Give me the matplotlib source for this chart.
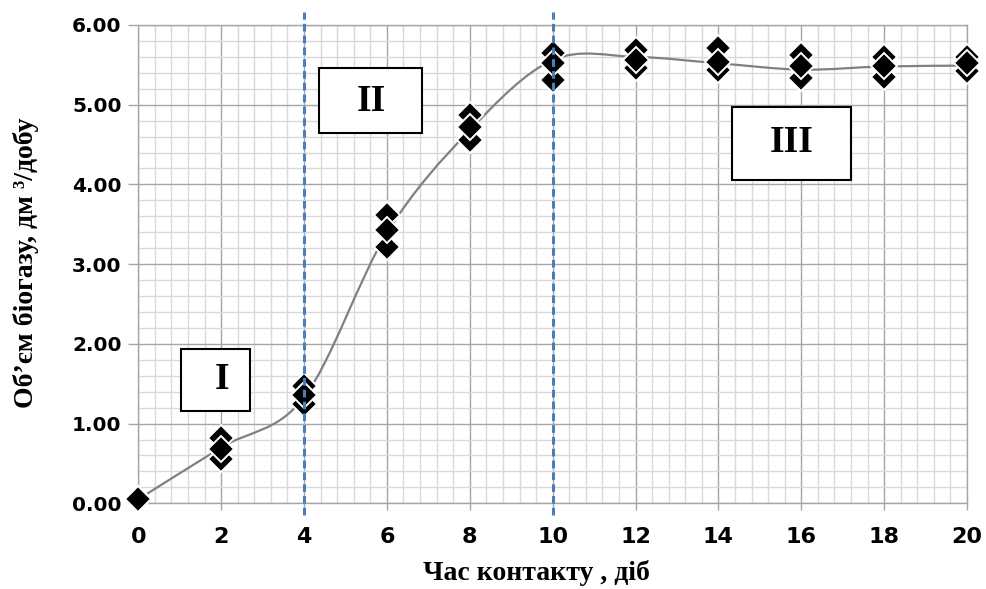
import matplotlib
matplotlib.use("Agg")
import matplotlib.pyplot as plt
from matplotlib.path import Path
from matplotlib.patches import PathPatch, Rectangle
from matplotlib.ticker import MultipleLocator, FormatStrFormatter

# ---- data ----
days = [0, 2, 4, 6, 8, 10, 12, 14, 16, 18, 20]
series_high = [0.05, 0.82, 1.47, 3.62, 4.87, 5.65, 5.69, 5.71, 5.62, 5.60, 5.60]
series_mid = [0.05, 0.68, 1.36, 3.43, 4.72, 5.52, 5.56, 5.54, 5.48, 5.48, 5.52]
series_low = [0.05, 0.56, 1.25, 3.22, 4.56, 5.31, 5.46, 5.44, 5.33, 5.35, 5.42]
trend = [0.05, 0.70, 1.33, 3.39, 4.68, 5.56, 5.60, 5.52, 5.44, 5.48, 5.49]
phase_bounds = [4, 10]
phase_labels = ["I", "II", "III"]
xlabel = "Час контакту , діб"
ylabel = "Об’єм біогазу, дм ³/добу"

plt.rcParams['lines.scale_dashes'] = False

fig = plt.figure(figsize=(9.87, 5.89), dpi=100)
ax = fig.add_axes([138.3 / 987, 85.7 / 589, 828.7 / 987, 478.3 / 589])
ax.set_xlim(0, 20)
ax.set_ylim(0, 6)

ax.xaxis.set_major_locator(MultipleLocator(2))
ax.xaxis.set_minor_locator(MultipleLocator(0.4))
ax.yaxis.set_major_locator(MultipleLocator(1))
ax.yaxis.set_minor_locator(MultipleLocator(0.2))
ax.yaxis.set_major_formatter(FormatStrFormatter('%.2f'))

ax.grid(which='major', color='#a6a6a6', linewidth=1.0, zorder=0)
ax.grid(which='minor', color='#d9d9d9', linewidth=1.0, zorder=0)
ax.set_axisbelow(True)
for s in ax.spines.values():
    s.set_color('#a6a6a6')
    s.set_linewidth(1.0)

ax.tick_params(which='minor', length=0)
ax.tick_params(axis='y', which='major', direction='out', length=7, color='#a6a6a6', width=1, pad=5)
ax.tick_params(axis='x', which='major', direction='out', length=5, color='#a6a6a6', width=1, pad=12)
for lab in ax.get_yticklabels():
    lab.set_fontfamily('DejaVu Sans')
    lab.set_fontweight('bold')
    lab.set_fontsize(14.5)
for lab in ax.get_xticklabels():
    lab.set_fontfamily('DejaVu Sans')
    lab.set_fontsize(16)
    lab.set_fontweight('bold')

# smooth trend curve (Catmull-Rom -> cubic Bezier)
pts = list(zip(days, trend))
verts = [pts[0]]
codes = [Path.MOVETO]
n = len(pts)
for i in range(n - 1):
    p0 = pts[i - 1] if i > 0 else pts[i]
    p1 = pts[i]
    p2 = pts[i + 1]
    p3 = pts[i + 2] if i + 2 < n else pts[i + 1]
    c1 = (p1[0] + (p2[0] - p0[0]) / 6, p1[1] + (p2[1] - p0[1]) / 6)
    c2 = (p2[0] - (p3[0] - p1[0]) / 6, p2[1] - (p3[1] - p1[1]) / 6)
    verts += [c1, c2, p2]
    codes += [Path.CURVE4] * 3
ax.add_patch(PathPatch(Path(verts, codes), facecolor='none', edgecolor='#808080',
                       linewidth=1.6, zorder=3))

for ser in (series_low, series_high, series_mid):
    ax.plot(days, ser, linestyle='none', marker='D', markersize=13.5,
            markerfacecolor='black', markeredgecolor='white', markeredgewidth=1.4,
            zorder=4, clip_on=False)

for xb in phase_bounds:
    ax.plot([xb, xb], [-0.15, 6.16], color='#4a7ebb', linewidth=2.2,
            dashes=(5.5, 3), zorder=5, clip_on=False)

boxes = [(1.03, 1.16, 1.66, 0.78, 2.02, 1.55),
         (4.36, 4.65, 2.48, 0.81, 5.63, 5.04),
         (14.32, 4.06, 2.87, 0.91, 15.76, 4.52)]
for lbl, (bx, by, bw, bh, tx, ty) in zip(phase_labels, boxes):
    ax.add_patch(Rectangle((bx, by), bw, bh, facecolor='white', edgecolor='black',
                           linewidth=1.5, zorder=6))
    ax.text(tx, ty, lbl, ha='center', va='center', fontsize=27, fontweight='bold',
            fontfamily='Liberation Serif', zorder=7)

ax.set_xlabel(xlabel, fontfamily='Liberation Serif', fontweight='bold', fontsize=20)
ax.xaxis.label.set_va('center')
ax.xaxis.set_label_coords(0.481, -0.146)
ax.set_ylabel(ylabel, fontfamily='Liberation Serif', fontweight='bold', fontsize=20)
ax.yaxis.label.set_va('center')
ax.yaxis.set_label_coords(-0.136, 0.503)

fig.savefig('out.png', dpi=100)
